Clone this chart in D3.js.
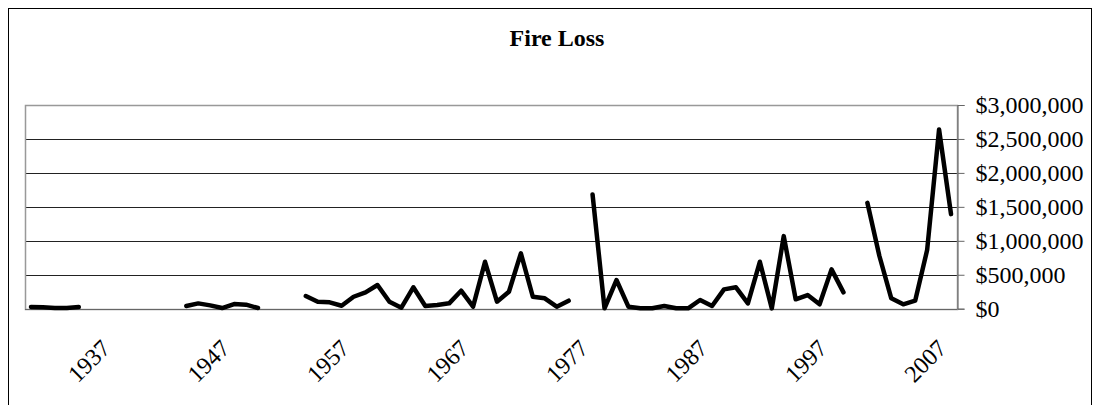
<!DOCTYPE html>
<html>
<head>
<meta charset="utf-8">
<script src="https://cdn.jsdelivr.net/npm/d3@7"></script>
<style>
  body { margin: 0; background: #fff; }
  svg { display: block; font-family: 'Liberation Serif', 'Times New Roman', serif; }
  .title { font-size: 24px; font-weight: bold; }
  .tick-label { font-size: 24px; fill: #000; font-family: 'Liberation Serif', 'Times New Roman', serif; }
</style>
</head>
<body>
<svg width="1099" height="405"></svg>
<script>
(function (d3) {
  'use strict';

  // one entry per year, 1931-2008; null = no value reported
  const years = d3.range(1931, 2009);

  const fireLoss = [
    25000, 20000, 12000, 10000, 25000,
    null, null, null, null, null, null, null, null,
    39000, 78000, 49000, 10000, 69000, 59000, 10000,
    null, null, null,
    187000, 103000, 94000, 44000, 176000, 241000, 349000, 103000, 15000, 315000,
    40000, 54000, 79000, 265000, 30000, 691000, 103000, 250000, 815000, 176000,
    153000, 30000, 118000,
    null,
    1682000, 5000, 422000, 30000, 6000, 6000, 40000, 6000, 6000, 128000,
    40000, 285000, 315000, 79000, 691000, 5000, 1069000, 138000, 201000, 65000,
    579000, 241000,
    null,
    1559000, 780000, 153000, 65000, 118000, 863000, 2638000, 1393000
  ];

  const yTicks = [0, 500000, 1000000, 1500000, 2000000, 2500000, 3000000];
  const xTickYears = [1937, 1947, 1957, 1967, 1977, 1987, 1997, 2007];

  const title = 'Fire Loss';

  const svg = d3.select('svg');

  const plot = { left: 25, right: 957, top: 105, bottom: 308.7 };

  const xScale = d3.scaleBand()
    .domain(years)
    .range([plot.left, plot.right])
    .padding(0);

  const xCenter = d => xScale(d) + xScale.bandwidth() / 2;

  const yScale = d3.scaleLinear()
    .domain([0, 3000000])
    .range([plot.bottom, plot.top]);

  const money = d3.format('$,');

  // outer chart frame
  svg.append('rect')
    .attr('x', 8.5)
    .attr('y', 8.5)
    .attr('width', 1083)
    .attr('height', 420)
    .attr('fill', 'none')
    .attr('stroke', '#000')
    .attr('stroke-width', 1);

  svg.append('text')
    .attr('class', 'title')
    .attr('x', 557)
    .attr('y', 46)
    .attr('text-anchor', 'middle')
    .text(title);

  // gridlines
  svg.append('g')
    .selectAll('line')
    .data(yTicks.filter(d => d !== 0 && d !== 3000000))
    .enter().append('line')
    .attr('x1', plot.left)
    .attr('x2', plot.right)
    .attr('y1', d => Math.round(yScale(d)) + 0.5)
    .attr('y2', d => Math.round(yScale(d)) + 0.5)
    .attr('stroke', '#222')
    .attr('stroke-width', 1);

  // plot area border
  svg.append('rect')
    .attr('x', plot.left + 0.5)
    .attr('y', plot.top + 0.5)
    .attr('width', plot.right - plot.left)
    .attr('height', Math.round(plot.bottom) - plot.top)
    .attr('fill', 'none')
    .attr('stroke', '#999')
    .attr('stroke-width', 1.5);

  // right value axis
  const yAxis = d3.axisRight(yScale)
    .tickValues(yTicks)
    .tickSize(7)
    .tickPadding(11)
    .tickFormat(d => d === 0 ? '$0' : money(d));

  const yAxisG = svg.append('g')
    .attr('transform', `translate(${plot.right + 0.5},0)`)
    .call(yAxis)
    .attr('font-family', null)
    .attr('font-size', null);
  yAxisG.select('.domain').attr('stroke', '#666');
  yAxisG.selectAll('.tick line').attr('stroke', '#666');
  yAxisG.selectAll('.tick text')
    .attr('class', 'tick-label')
    .attr('dy', '0.33em');

  // category axis line
  svg.append('line')
    .attr('x1', plot.left)
    .attr('x2', plot.right)
    .attr('y1', Math.round(plot.bottom) + 0.5)
    .attr('y2', Math.round(plot.bottom) + 0.5)
    .attr('stroke', '#666');

  svg.append('g')
    .selectAll('text')
    .data(xTickYears)
    .enter().append('text')
    .attr('class', 'tick-label')
    .attr('text-anchor', 'end')
    .attr('transform', d => `translate(${xCenter(d) + 9},${plot.bottom + 41}) rotate(-45)`)
    .text(d => d);

  const line = d3.line()
    .defined(d => d.value !== null)
    .x(d => xCenter(d.year))
    .y(d => yScale(d.value));

  const series = years.map((year, i) => ({ year, value: fireLoss[i] }));

  svg.append('path')
    .datum(series)
    .attr('d', line)
    .attr('fill', 'none')
    .attr('stroke', '#000')
    .attr('stroke-width', 4.5)
    .attr('stroke-linejoin', 'round')
    .attr('stroke-linecap', 'round');

}(d3));
</script>
</body>
</html>
